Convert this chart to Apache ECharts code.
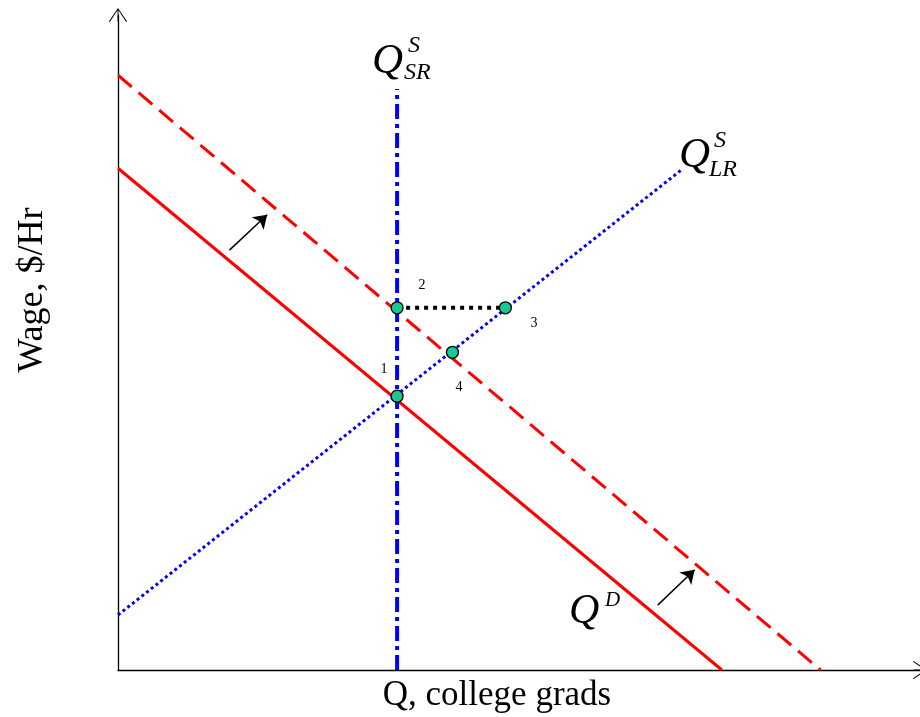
<!DOCTYPE html>
<html>
<head>
<meta charset="utf-8">
<script src="https://cdn.jsdelivr.net/npm/echarts@6/dist/echarts.min.js"></script>
<style>
  html, body { margin: 0; padding: 0; background: #fff; }
  #chart { width: 920px; height: 717px; }
</style>
</head>
<body>
<div id="chart"></div>
<script>
// data (x: quantity, y: wage, both in 0..100 units)
const demandOld = [[0, 76.6], [75.3, 0]]
const demandNew = [[0, 90.8], [87.6, 0]]
const supplyLongRun = [[0, 8.4], [70.2, 76.3]]
const supplyShortRun = [[34.8, 0], [34.8, 88.7]]
const gapLine = [[34.8, 55.3], [48.3, 55.3]]
const equilibria = [[34.8, 41.8], [34.8, 55.3], [48.3, 55.3], [41.7, 48.5]]
const shiftArrows = [[[13.9, 64.1], [18.6, 69.5]], [[67.3, 9.9], [71.9, 15.3]]]
const pointNames = ['1', '2', '3', '4']

const serif = '"Liberation Serif", "Times New Roman", serif'

const chart = echarts.init(document.getElementById('chart'))

// thin open arrowhead with a stem so the axis line reaches the tip
const openArrow = 'path://M0,14 L9.5,0 L19,14 L18,14.6 L9.5,1.6 L1,14.6 Z M9,0.5 L10,0.5 L10,14 L9,14 Z'

function plainLine(data, color, width, dash) {
  return {
    type: 'line',
    data: data,
    symbol: 'none',
    silent: true,
    lineStyle: { color: color, width: width, type: dash },
    z: 2,
  }
}

function italicText(text, x, y, size) {
  return {
    type: 'text',
    x: x,
    y: y,
    style: {
      text: text,
      font: 'italic ' + size + 'px ' + serif,
      fill: '#000',
      verticalAlign: 'middle',
    },
  }
}

function numberText(text, x, y) {
  return {
    type: 'text',
    x: x,
    y: y,
    style: { text: text, font: '14px ' + serif, fill: '#000', align: 'center', verticalAlign: 'middle' },
  }
}

chart.setOption({
  animation: false,
  grid: { left: 118, top: 15, width: 805, height: 655 },
  xAxis: {
    type: 'value',
    min: 0,
    max: 100,
    axisLine: {
      show: true,
      onZero: false,
      symbol: ['none', openArrow],
      symbolSize: [19, 14],
      lineStyle: { color: '#000', width: 1.3 },
    },
    axisTick: { show: false },
    axisLabel: { show: false },
    splitLine: { show: false },
  },
  yAxis: {
    type: 'value',
    min: 0,
    max: 100,
    axisLine: {
      show: true,
      onZero: false,
      symbol: ['none', openArrow],
      symbolSize: [19, 14],
      lineStyle: { color: '#000', width: 1.3 },
    },
    axisTick: { show: false },
    axisLabel: { show: false },
    splitLine: { show: false },
  },
  series: [
    plainLine(demandOld, '#ff0000', 3, 'solid'),
    plainLine(demandNew, '#ff0000', 3, [18, 9]),
    plainLine(supplyLongRun, '#0000ff', 3, [3, 3]),
    plainLine(supplyShortRun, '#0000ff', 4, [15, 5, 4, 5]),
    plainLine(gapLine, '#000', 4, [4, 5]),
    {
      type: 'lines',
      coordinateSystem: 'cartesian2d',
      silent: true,
      symbol: ['none', 'arrow'],
      symbolSize: 13,
      lineStyle: { color: '#000', width: 1.5, opacity: 1 },
      data: shiftArrows.map((c) => ({ coords: c })),
      z: 3,
    },
    {
      type: 'scatter',
      data: equilibria,
      symbol: 'circle',
      symbolSize: 12,
      silent: true,
      itemStyle: { color: '#19c795', borderColor: '#000', borderWidth: 1.3, opacity: 1 },
      z: 5,
    },
  ],
  graphic: [
    // point numbers
    numberText(pointNames[0], 384, 369),
    numberText(pointNames[1], 422, 285),
    numberText(pointNames[2], 534, 323),
    numberText(pointNames[3], 459, 387),
    // curve names
    italicText('Q', 372, 62, 43),
    italicText('S', 408, 46, 24),
    italicText('SR', 404, 73, 24),
    italicText('Q', 679, 156, 43),
    italicText('S', 714, 141, 24),
    italicText('LR', 709, 170, 24),
    italicText('Q', 569, 612, 42),
    italicText('D', 605, 600, 21),
    // axis titles
    {
      type: 'text',
      x: 497,
      y: 696,
      style: { text: 'Q, college grads', font: '35px ' + serif, fill: '#000', align: 'center', verticalAlign: 'middle' },
    },
    {
      type: 'text',
      x: 33,
      y: 290,
      rotation: Math.PI / 2,
      style: { text: 'Wage, $/Hr', font: '36px ' + serif, fill: '#000', align: 'center', verticalAlign: 'middle' },
    },
  ],
})
</script>
</body>
</html>
